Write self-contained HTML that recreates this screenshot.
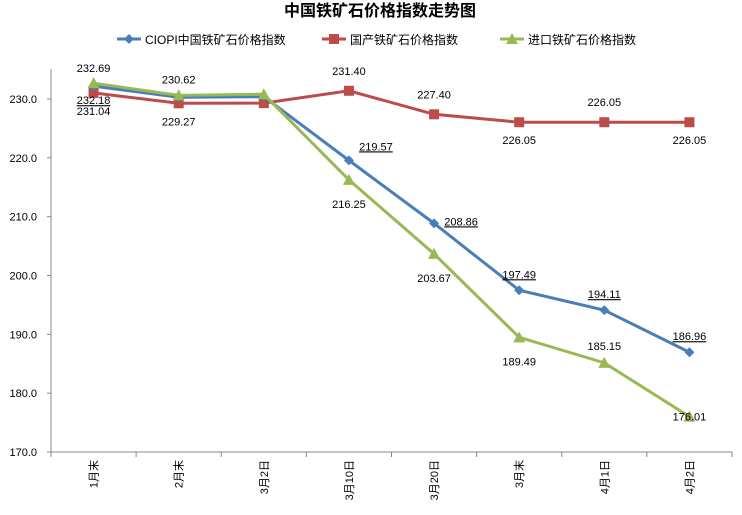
<!DOCTYPE html>
<html><head><meta charset="utf-8"><style>
body{margin:0;background:#fff;}
svg text{font-family:"Liberation Sans","Noto Sans CJK SC",sans-serif;}
</style></head><body>
<svg id="c" width="742" height="510" xmlns="http://www.w3.org/2000/svg">
<text x="380" y="16" text-anchor="middle" font-size="16" font-weight="bold">中国铁矿石价格指数走势图</text>
<g id="legend"></g>
<g id="plot"></g>
</svg>
<script>
const categories=["1月末","2月末","3月2日","3月10日","3月20日","3月末","4月1日","4月2日"];
const ciopi=[232.18,230.3,230.4,219.57,208.86,197.49,194.11,186.96];
const domestic=[231.04,229.27,229.3,231.40,227.40,226.05,226.05,226.05];
const imported=[232.69,230.62,230.8,216.25,203.67,189.49,185.15,176.01];
const ciopiLabels=["232.18","","","219.57","208.86","197.49","194.11","186.96"];
const domLabels=["231.04","229.27","","231.40","227.40","226.05","226.05","226.05"];
const impLabels=["232.69","230.62","","216.25","203.67","189.49","185.15","176.01"];
const yTicks=[170,180,190,200,210,220,230];
const NS="http://www.w3.org/2000/svg";
const X0=51,X1=732,Y0=452,Ymin=170,Ymax=230,Ytop=99;
const step=(X1-X0)/categories.length;
const xs=i=>X0+step*(i+0.5);
const ys=v=>Y0-(v-Ymin)*(Y0-Ytop)/(Ymax-Ymin);
const plot=document.getElementById('plot');
function mk(tag,attrs,parent){const e=document.createElementNS(NS,tag);for(const k in attrs)e.setAttribute(k,attrs[k]);(parent||plot).appendChild(e);return e;}
let ax=mk('line',{x1:X0,y1:Ytop-30,x2:X0,y2:Y0,stroke:'#888'});


let bx=mk('line',{x1:X0,y1:Y0,x2:X1,y2:Y0,stroke:'#888'});


yTicks.forEach(v=>{
  mk('line',{x1:X0-4,y1:ys(v),x2:X0,y2:ys(v),stroke:'#888'});
  const t=mk('text',{x:X0-14,y:ys(v)+4,'text-anchor':'end','font-size':11});
  t.textContent=v.toFixed(1);
  
  
});
for(let i=0;i<=categories.length;i++)mk('line',{x1:X0+step*i,y1:Y0,x2:X0+step*i,y2:Y0+5,stroke:'#888'});
categories.forEach((c,i)=>{
  const t=mk('text',{transform:`translate(${xs(i)+4},${Y0+8}) rotate(-90)`,'text-anchor':'end','font-size':11});
  t.textContent=c;
  
  
});
function series(vals,color,shape,name){
  const g=mk('g',{});
  
  
  mk('polyline',{points:vals.map((v,i)=>xs(i)+','+ys(v)).join(' '),fill:'none',stroke:color,'stroke-width':3},g);
  vals.forEach((v,i)=>marker(xs(i),ys(v),color,shape,g));
}
function marker(x,y,color,shape,g){
  let m;
  if(shape==='d')m=mk('polygon',{points:`${x},${y-5} ${x+5},${y} ${x},${y+5} ${x-5},${y}`,fill:color},g);
  else if(shape==='s')m=mk('rect',{x:x-5,y:y-5,width:10,height:10,fill:color},g);
  else m=mk('polygon',{points:`${x},${y-6} ${x+6},${y+5} ${x-6},${y+5}`,fill:color},g);
  
  
}
series(domestic,'#be4b48','s','series-domestic');
series(ciopi,'#4a7ebb','d','series-ciopi');
series(imported,'#98b954','t','series-imported');
function labels(vals,labs,dx,dy,under,name){
  vals.forEach((v,i)=>{ if(!labs[i])return;
    const t=mk('text',{x:xs(i)+dx[i],y:ys(v)+dy[i],'text-anchor':'middle','font-size':11,'text-decoration':under?'underline':'none'});
    t.textContent=labs[i];
    
    
  });
}
labels(ciopi,ciopiLabels,[0,0,0,27,27,0,0,0],[18,0,0,-10,2,-12,-12,-12],true,'ciopi-label');
labels(domestic,domLabels,[0,0,0,0,0,0,0,0],[22,22,0,-16,-16,22,-16,22],false,'domestic-label');
labels(imported,impLabels,[0,0,0,0,0,0,0,0],[-11,-12,0,28,28,28,-13,4],false,'imported-label');
const lg=document.getElementById('legend');
[["CIOPI中国铁矿石价格指数",'#4a7ebb','d',117],["国产铁矿石价格指数",'#be4b48','s',322],["进口铁矿石价格指数",'#98b954','t',500]].forEach(([n,c,s,x])=>{
  const g=mk('g',{},lg);
  
  
  mk('line',{x1:x,y1:39,x2:x+24,y2:39,stroke:c,'stroke-width':3},g);
  marker(x+12,39,c,s,g);
  const t=mk('text',{x:x+28,y:44,'font-size':12},g);t.textContent=n;
});
</script>
</body></html>
